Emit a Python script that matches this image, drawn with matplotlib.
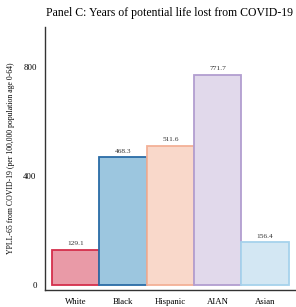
import matplotlib
matplotlib.use("Agg")
import matplotlib.pyplot as plt

groups = ["White", "Black", "Hispanic", "AIAN", "Asian"]
ypll = [129.1, 468.3, 511.6, 771.7, 156.4]
fills = ["#e99aa7", "#9cc6df", "#f9d8ca", "#e1d9eb", "#d3e7f3"]
edges = ["#d42f4c", "#2a6ca6", "#f3b197", "#b29ed0", "#a6d2ec"]

plt.rcParams["font.family"] = ["Liberation Serif", "DejaVu Serif"]

fig = plt.figure(figsize=(2.96, 3.07), dpi=100)
ax = fig.add_axes([45/296, 17/307, 250/296, 263/307])

x = range(len(groups))
ax.bar(x, ypll, width=1.0, color=fills, edgecolor=edges, linewidth=1.3)
for xi, v in zip(x, ypll):
    ax.text(xi, v + 14, f"{v:.1f}", ha="center", va="bottom", fontsize=5.3, color="#333333")

ax.set_xlim(-0.65, 4.63)
ax.set_ylim(-18, 947)
ax.set_yticks([0, 400, 800])
ax.set_xticks(list(x))
ax.set_xticklabels(groups)
ax.tick_params(axis="both", length=0, labelsize=6.3, pad=6)
ax.spines["top"].set_visible(False)
ax.spines["right"].set_visible(False)
for s in ["left", "bottom"]:
    ax.spines[s].set_color("#333333")
    ax.spines[s].set_linewidth(1.0)
ax.set_ylabel("YPLL-65 from COVID-19 (per 100,000 population age 0-64)", fontsize=5.6, labelpad=6)
fig.text(170/296, 1 - 13/307, "Panel C: Years of potential life lost from COVID-19",
         ha="center", va="center", fontsize=8.5)

fig.savefig("out.png", dpi=100)
